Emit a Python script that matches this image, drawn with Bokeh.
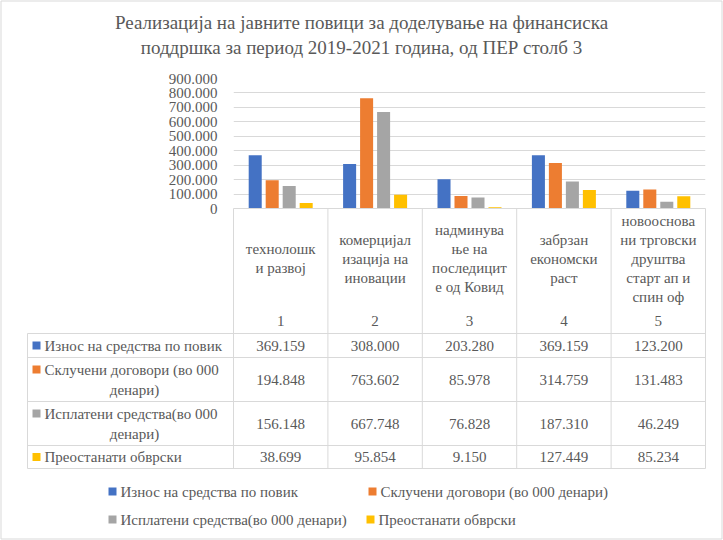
from bokeh.plotting import figure
from bokeh.models import Range1d, FixedTicker, CustomJSTickFormatter
from bokeh.core.properties import value
from bokeh.embed import file_html
from bokeh.resources import INLINE

# ---------------- data ----------------
title_lines = ["Реализација на јавните повици за доделување на финансиска",
               "поддршка за период 2019-2021 година, од ПЕР столб 3"]
category_lines = [
    ["технолошк", "и развој"],
    ["комерцијал", "изација на", "иновации"],
    ["надминува", "ње на", "последицит", "е од Ковид"],
    ["забрзан", "економски", "раст"],
    ["новооснова", "ни трговски", "друштва", "старт ап и", "спин оф"],
]
category_numbers = ["1", "2", "3", "4", "5"]
series_names = ["Износ на средства по повик",
                "Склучени договори (во 000 денари)",
                "Исплатени средства(во 000 денари)",
                "Преостанати обврски"]
iznos = [369159, 308000, 203280, 369159, 123200]
skluceni = [194848, 763602, 85978, 314759, 131483]
isplateni = [156148, 667748, 76828, 187310, 46249]
preostanati = [38699, 95854, 9150, 127449, 85234]
y_ticks = [0, 100000, 200000, 300000, 400000, 500000, 600000, 700000, 800000, 900000]

series_values = [iznos, skluceni, isplateni, preostanati]
colors = ["#4472C4", "#ED7D31", "#A5A5A5", "#FFC000"]

FONT = value("Liberation Serif")
TXT = "#595959"
GRID = "#d9d9d9"


def fmt(v):
    return f"{v:,}".replace(",", ".")


W, H = 723, 540
p = figure(width=W, height=H, output_backend="svg", toolbar_location=None,
           x_range=Range1d(0, 5), y_range=Range1d(0, 900000),
           min_border_left=233, min_border_right=W - 705, min_border_top=78,
           min_border_bottom=H - 208, x_axis_type=None)
p.outline_line_color = None
p.background_fill_color = "white"
p.border_fill_color = "white"

# pixel-like layout ranges (page coordinates)
p.extra_x_ranges = {"px": Range1d(233, 705)}
p.extra_y_ranges = {"py": Range1d(208, 78)}

# y axis
p.yaxis.ticker = FixedTicker(ticks=y_ticks)
p.yaxis.formatter = CustomJSTickFormatter(
    code="return Math.round(tick).toString().replace(/\\B(?=(\\d{3})+(?!\\d))/g, '.');")
p.yaxis.axis_line_color = None
p.yaxis.major_tick_line_color = None
p.yaxis.minor_tick_line_color = None
p.yaxis.major_label_text_font = "Liberation Serif"
p.yaxis.major_label_text_font_size = "15px"
p.yaxis.major_label_text_color = TXT
p.yaxis.major_label_standoff = 10
p.ygrid.grid_line_color = GRID
p.ygrid.ticker = FixedTicker(ticks=y_ticks)
p.xgrid.grid_line_color = None

# bars
nser = len(series_values)
pitch = 0.18
bw = 0.138
for j, vals in enumerate(series_values):
    xs = [i + 0.5 + (j - (nser - 1) / 2) * pitch for i in range(len(vals))]
    p.vbar(x=xs, top=vals, bottom=0, width=bw, color=colors[j], line_color=None)

# ---------------- chart border ----------------
p.quad(left=[0.5], right=[W - 1.5], top=[0.5], bottom=[H - 1.5], fill_color=None,
       line_color=GRID, line_width=1, x_range_name="px", y_range_name="py", level="overlay")

# ---------------- table ----------------
ncat = len(category_lines)
x0, x1 = 233, 705
cw = (x1 - x0) / ncat
col_edges = [x0 + i * cw for i in range(ncat + 1)]
left_edge = 27
hdr_top, body_top = 208, 333
row_edges = [333, 357, 401, 445, 468]

seg = dict(x_range_name="px", y_range_name="py", line_color=GRID, line_width=1, level="overlay")
p.segment(x0=col_edges, x1=col_edges, y0=[hdr_top] * len(col_edges), y1=[row_edges[-1]] * len(col_edges), **seg)
p.segment(x0=[left_edge], x1=[left_edge], y0=[body_top], y1=[row_edges[-1]], **seg)
p.segment(x0=[x0], x1=[x1], y0=[hdr_top], y1=[hdr_top], **seg)
p.segment(x0=[left_edge] * len(row_edges), x1=[x1] * len(row_edges), y0=row_edges, y1=row_edges, **seg)

txt = dict(x_range_name="px", y_range_name="py", text_font=FONT, text_font_size="15px",
           text_color=TXT, text_baseline="middle", level="overlay")


def key(xc, yc, color):
    p.quad(left=[xc - 4], right=[xc + 4], top=[yc - 4], bottom=[yc + 4], fill_color=color,
           line_color=None, x_range_name="px", y_range_name="py", level="overlay")


# category labels
lh = 19
cx, cy, ct = [], [], []
for i, lines in enumerate(category_lines):
    n = len(lines)
    for k, s in enumerate(lines):
        cx.append(col_edges[i] + cw / 2)
        cy.append(258 + (k - (n - 1) / 2) * lh)
        ct.append(s)
p.text(x=cx, y=cy, text=ct, text_align="center", **txt)
p.text(x=[e + cw / 2 for e in col_edges[:-1]], y=[320] * ncat, text=category_numbers,
       text_align="center", **txt)

# rows: legend keys, labels and values
for j, name in enumerate(series_names):
    top, bot = row_edges[j], row_edges[j + 1]
    mid = (top + bot) / 2
    if len(name) > 27:
        first, second = name.rsplit(" ", 1)
        ky = mid - 10
        p.text(x=[44], y=[ky], text=[first], text_align="left", **txt)
        p.text(x=[134], y=[mid + 10], text=[second], text_align="center", **txt)
    else:
        ky = mid
        p.text(x=[44], y=[ky], text=[name], text_align="left", **txt)
    key(36, ky, colors[j])
    p.text(x=[e + cw / 2 for e in col_edges[:-1]], y=[mid] * ncat,
           text=[fmt(v) for v in series_values[j]], text_align="center", **txt)

# ---------------- legend ----------------
leg_sq_x = [112, 372, 112, 370]
leg_y = [491, 491, 519, 519]
for j, name in enumerate(series_names):
    key(leg_sq_x[j], leg_y[j], colors[j])
    p.text(x=[leg_sq_x[j] + 8], y=[leg_y[j]], text=[name], text_align="left", **txt)

# ---------------- title ----------------
p.text(x=[361, 361], y=[22, 47], text=title_lines, text_align="center",
       x_range_name="px", y_range_name="py", text_font=FONT, text_font_size="19px",
       text_color=TXT, text_baseline="middle", level="overlay")

open("out.html", "w").write(file_html(p, INLINE))
